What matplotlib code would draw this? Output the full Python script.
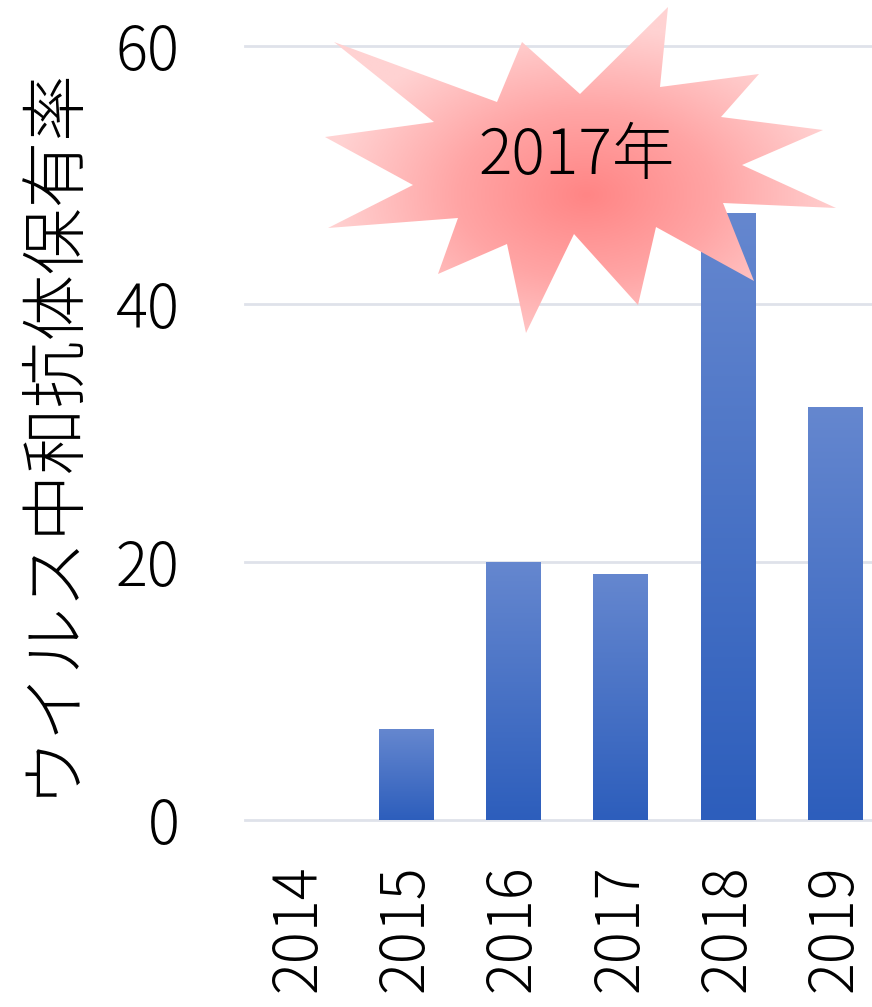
import numpy as np
import matplotlib
matplotlib.use("Agg")
import matplotlib.pyplot as plt
from matplotlib.patches import Polygon
from matplotlib.colors import LinearSegmentedColormap

plt.rcParams['font.family'] = ['Noto Sans CJK JP', 'DejaVu Sans']
plt.rcParams['font.weight'] = 'light'

# data
years = ['2014', '2015', '2016', '2017', '2018', '2019']
rates = [0, 7, 20, 19, 47, 32]
y_ticks = [0, 20, 40, 60]
y_label = 'ウイルス中和抗体保有率'
burst_text = '2017年'

# starburst outline in figure pixels (decoration, not data)
burst_pts = [(334, 42), (497, 102), (522, 42), (580, 94), (668, 7), (660, 87),
             (759, 74), (721, 117), (823, 130), (742, 165), (836, 208), (723, 203),
             (754, 281), (656, 227), (638, 305), (574, 234), (526, 333), (507, 244),
             (438, 274), (458, 218), (328, 228), (413, 185), (325, 137), (434, 122)]

W, H = 872, 1007
fig = plt.figure(figsize=(W / 100, H / 100), dpi=100)
ax = fig.add_axes([245 / W, 187 / H, 644 / W, 774 / H])

bar_cmap = LinearSegmentedColormap.from_list('bar', ['#2d5ebc', '#6587cf'])
grad = np.linspace(0, 1, 256).reshape(-1, 1)
width = 0.51
x = np.arange(len(years))
for xi, v in zip(x, rates):
    if v <= 0:
        continue
    ax.imshow(grad, cmap=bar_cmap, origin='lower', aspect='auto',
              extent=[xi - width / 2, xi + width / 2, 0, v], zorder=2)

ax.set_xlim(-0.5, len(years) - 0.5)
ax.set_ylim(0, 60)
ax.set_yticks(y_ticks)
ax.set_xticks(x)
ax.set_xticklabels(years, rotation=90)
ax.tick_params(axis='both', length=0, labelsize=43)
ax.tick_params(axis='y', pad=47)
ax.tick_params(axis='x', pad=32)
for s in ax.spines.values():
    s.set_visible(False)
for t in y_ticks:
    ax.axhline(t, color='#dfe2ea', lw=2, zorder=1, clip_on=False)

fig.text(50 / W, 1 - 430 / H, y_label, rotation=90, fontsize=48,
         ha='center', va='center')

# starburst overlay
ov = fig.add_axes([0, 0, 1, 1], zorder=5)
ov.set_xlim(0, W)
ov.set_ylim(H, 0)
ov.axis('off')
ov.patch.set_alpha(0)
poly = Polygon(burst_pts, closed=True, facecolor='none', edgecolor='none')
ov.add_patch(poly)
gx, gy = np.meshgrid(np.linspace(300, 860, 300), np.linspace(0, 340, 200))
r = np.hypot((gx - 586) / 260, (gy - 195) / 170)
r = np.clip(r, 0, 1)
burst_cmap = LinearSegmentedColormap.from_list('burst', ['#ff8585', '#ffa5a5', '#ffd2d2'])
im = ov.imshow(r, cmap=burst_cmap, extent=[300, 860, 340, 0], aspect='auto',
               vmin=0, vmax=1, zorder=1)
im.set_clip_path(poly)
ov.set_xlim(0, W)
ov.set_ylim(H, 0)
ov.text(577, 157, burst_text, fontsize=45, ha='center', va='center', zorder=2)

fig.savefig('out.png', dpi=100)
